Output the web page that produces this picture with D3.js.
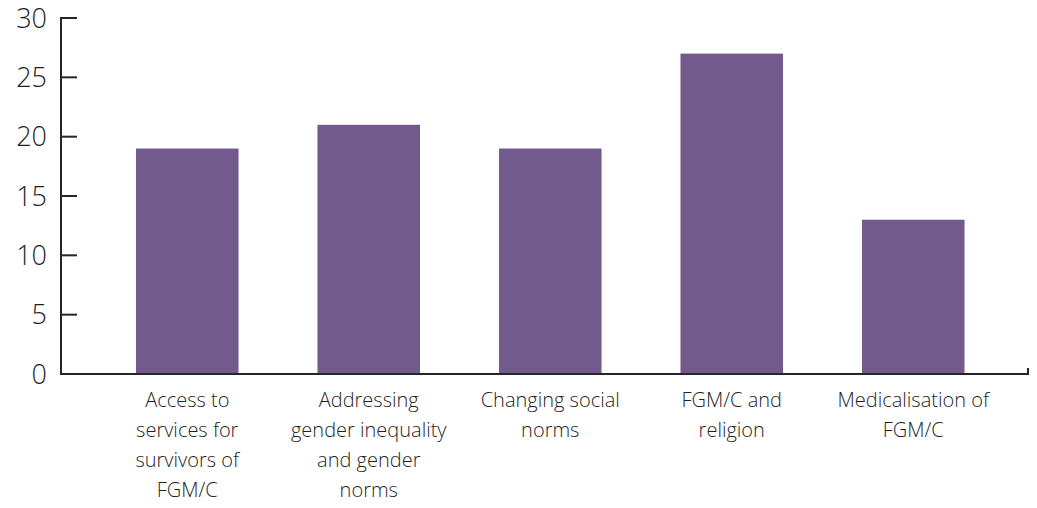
<!DOCTYPE html>
<html>
<head>
<meta charset="utf-8">
<script src="https://cdn.jsdelivr.net/npm/d3@7"></script>
<style>
	body { margin: 0; background: #fff; }
	svg text { font-family: "Open Sans", "Noto Sans", sans-serif; font-weight: 300; fill: #1f1f1f; }
</style>
</head>
<body>
<svg id="chart" width="1037" height="508"></svg>
<script>
// chart values
var categories = [
	"Access to\nservices for\nsurvivors of\nFGM/C",
	"Addressing\ngender inequality\nand gender\nnorms",
	"Changing social\nnorms",
	"FGM/C and\nreligion",
	"Medicalisation of\nFGM/C"
];
var counts = [19, 21, 19, 27, 13];
var yTicks = [0, 5, 10, 15, 20, 25, 30];

var barColor = "#725a8d";
var axisColor = "#262626";

var svg = d3.select("#chart");

var x = d3.scaleBand()
	.domain(categories)
	.range([96.5, 1004])
	.paddingInner(0.435)
	.paddingOuter(0.2175);

var y = d3.scaleLinear()
	.domain([0, 30])
	.range([374, 18]);

// bars
svg.selectAll("rect.bar")
	.data(counts)
	.enter()
	.append("rect")
	.attr("class", "bar")
	.attr("x", function(d, i){ return x(categories[i]); })
	.attr("y", function(d){ return y(d); })
	.attr("width", x.bandwidth())
	.attr("height", function(d){ return y(0) - y(d); })
	.attr("fill", barColor);

// y axis: line with ticks pointing inward
var yAxis = svg.append("g");
yAxis.append("line")
	.attr("x1", 61).attr("x2", 61)
	.attr("y1", y(30) - 1).attr("y2", y(0) + 1)
	.attr("stroke", axisColor)
	.attr("stroke-width", 2);

yAxis.selectAll("line.tick")
	.data(yTicks)
	.enter()
	.append("line")
	.attr("class", "tick")
	.attr("x1", 61).attr("x2", 77)
	.attr("y1", function(d){ return y(d); })
	.attr("y2", function(d){ return y(d); })
	.attr("stroke", axisColor)
	.attr("stroke-width", 2);

yAxis.selectAll("text")
	.data(yTicks)
	.enter()
	.append("text")
	.attr("x", 47)
	.attr("y", function(d){ return y(d); })
	.attr("dy", "0.36em")
	.attr("text-anchor", "end")
	.style("font-size", "27px")
	.text(function(d){ return d; });

// x axis line with small end tick
svg.append("line")
	.attr("x1", 60).attr("x2", 1029)
	.attr("y1", y(0)).attr("y2", y(0))
	.attr("stroke", axisColor)
	.attr("stroke-width", 2);
svg.append("line")
	.attr("x1", 1028).attr("x2", 1028)
	.attr("y1", y(0)).attr("y2", y(0) - 6)
	.attr("stroke", axisColor)
	.attr("stroke-width", 2);

// category labels, one tspan per line
var labels = svg.selectAll("text.cat")
	.data(categories)
	.enter()
	.append("text")
	.attr("class", "cat")
	.attr("text-anchor", "middle")
	.style("font-size", "20px");

labels.each(function(d){
	var cx = x(d) + x.bandwidth() / 2;
	var lines = d.split("\n");
	var t = d3.select(this);
	for(var i = 0; i < lines.length; i++){
		t.append("tspan")
			.attr("x", cx)
			.attr("y", 407 + i * 30)
			.text(lines[i]);
	}
});
</script>
</body>
</html>
